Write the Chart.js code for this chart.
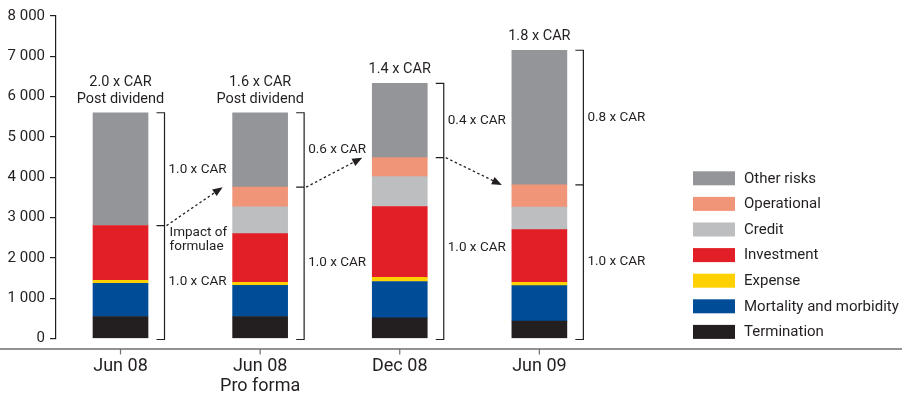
<!DOCTYPE html>
<html>
<head>
<meta charset="utf-8">
<script src="https://cdn.jsdelivr.net/npm/chart.js@4.4.1/dist/chart.umd.min.js"></script>
<style>
  html, body { margin: 0; padding: 0; background: #ffffff; }
  #wrap { width: 902px; height: 397px; position: relative; }
</style>
</head>
<body>
<div id="wrap"><canvas id="c" width="902" height="397"></canvas></div>
<script>
// Capital requirement by risk type, per reporting date
const categories = ['Jun 08', ['Jun 08', 'Pro forma'], 'Dec 08', 'Jun 09'];
const termination = [545, 545, 510, 430];
const mortality   = [825, 775, 905, 880];
const expense     = [70, 75, 100, 85];
const investment  = [1360, 1205, 1760, 1305];
const credit      = [0, 665, 740, 560];
const operational = [0, 490, 470, 550];
const otherRisks  = [2800, 1845, 1845, 3340];

const yTickValues = [0, 1000, 2000, 3000, 4000, 5000, 6000, 7000, 8000];

// Capital cover annotations
const coverLabels = [['2.0 x CAR', 'Post dividend'], ['1.6 x CAR', 'Post dividend'], ['1.4 x CAR'], ['1.8 x CAR']];
const upperCover  = ['1.0 x CAR', '0.6 x CAR', '0.4 x CAR', '0.8 x CAR'];
const lowerCover  = ['1.0 x CAR', '1.0 x CAR', '1.0 x CAR', '1.0 x CAR'];
const formulaNote = ['Impact of', 'formulae'];

const seriesNames  = ['Termination', 'Mortality and morbidity', 'Expense', 'Investment', 'Credit', 'Operational', 'Other risks'];
const seriesValues = [termination, mortality, expense, investment, credit, operational, otherRisks];
const seriesColors = ['#231f20', '#004c97', '#ffd100', '#e21e26', '#bcbec0', '#f19579', '#939598'];

const FONT = 'Roboto, "DejaVu Sans", sans-serif';
const INK = '#231f20';

const datasets = seriesNames.map((name, k) => ({
  label: name,
  data: seriesValues[k].map((v, i) => ({ x: i, y: v })),
  backgroundColor: seriesColors[k],
  borderWidth: 0,
  barThickness: 55
}));

function fmtThousands(v) {
  return String(v).replace(/\B(?=(\d{3})+(?!\d))/g, ' ');
}

function arrow(ctx, x1, y1, x2, y2) {
  const ang = Math.atan2(y2 - y1, x2 - x1);
  const len = 10, half = 4;
  const bx = x2 - Math.cos(ang) * len, by = y2 - Math.sin(ang) * len;
  ctx.save();
  ctx.strokeStyle = INK;
  ctx.lineWidth = 1.3;
  ctx.setLineDash([2.5, 2.5]);
  ctx.beginPath();
  ctx.moveTo(x1, y1);
  ctx.lineTo(bx, by);
  ctx.stroke();
  ctx.setLineDash([]);
  ctx.fillStyle = INK;
  ctx.beginPath();
  ctx.moveTo(x2, y2);
  ctx.lineTo(bx + Math.sin(ang) * half, by - Math.cos(ang) * half);
  ctx.lineTo(bx - Math.sin(ang) * half, by + Math.cos(ang) * half);
  ctx.closePath();
  ctx.fill();
  ctx.restore();
}

const decorations = {
  id: 'decorations',
  afterDraw(chart) {
    const ctx = chart.ctx;
    const xs = chart.scales.x, ys = chart.scales.y;
    const zero = ys.getPixelForValue(0);
    const topMeta = chart.getDatasetMeta(seriesNames.length - 1);

    const geo = categories.map((c, i) => {
      const el = topMeta.data[i];
      const total = seriesValues.reduce((s, arr) => s + arr[i], 0);
      const split = total - otherRisks[i];
      return {
        cx: el.x,
        left: el.x - el.width / 2,
        right: el.x + el.width / 2,
        top: ys.getPixelForValue(total),
        split: ys.getPixelForValue(split)
      };
    });

    ctx.save();
    ctx.strokeStyle = INK;
    ctx.fillStyle = INK;
    ctx.lineWidth = 1.2;

    geo.forEach((g, i) => {
      const bx = g.right + 16.5;
      // bracket
      ctx.beginPath();
      ctx.moveTo(bx - 8, g.top); ctx.lineTo(bx, g.top);
      ctx.lineTo(bx, zero + 1); ctx.lineTo(bx - 8, zero + 1);
      ctx.moveTo(bx - 8, g.split); ctx.lineTo(bx, g.split);
      ctx.stroke();

      ctx.font = '13.5px ' + FONT;
      ctx.textAlign = 'left';
      ctx.textBaseline = 'middle';
      ctx.fillText(upperCover[i], bx + 4, (g.top + g.split) / 2);
      ctx.fillText(lowerCover[i], bx + 4, (g.split + zero) / 2);
      if (i === 0) {
        ctx.fillText(formulaNote[0], bx + 5, g.split + 7);
        ctx.fillText(formulaNote[1], bx + 5, g.split + 20.5);
      }

      // cover multiple above each bar
      ctx.font = '14.5px ' + FONT;
      ctx.textAlign = 'center';
      const lines = coverLabels[i];
      lines.forEach((t, k) => {
        const y = g.top - 13.5 - (lines.length - 1 - k) * 16.5;
        ctx.fillText(t, g.cx, y);
      });
    });

    // movement arrows between bars
    for (let i = 0; i < geo.length - 1; i++) {
      const bx = geo[i].right + 16.5;
      arrow(ctx, bx + 2, geo[i].split, geo[i + 1].left - 10, geo[i + 1].split);
    }

    // base line with category ticks
    const baseY = zero + 10.5;
    ctx.strokeStyle = '#6d6e70';
    ctx.lineWidth = 1.6;
    ctx.beginPath();
    ctx.moveTo(0, baseY); ctx.lineTo(chart.width, baseY);
    ctx.stroke();
    ctx.lineWidth = 1.2;
    categories.forEach((c, i) => {
      const px = xs.getPixelForValue(i);
      ctx.beginPath();
      ctx.moveTo(px, baseY); ctx.lineTo(px, baseY + 5.5);
      ctx.stroke();
    });

    // legend
    ctx.font = '15px ' + FONT;
    ctx.textAlign = 'left';
    ctx.textBaseline = 'middle';
    for (let r = 0; r < seriesNames.length; r++) {
      const k = seriesNames.length - 1 - r;
      const cy = 178.3 + r * 25.6;
      ctx.fillStyle = seriesColors[k];
      ctx.fillRect(693, cy - 7, 42, 14);
      ctx.fillStyle = INK;
      ctx.fillText(seriesNames[k], 744, cy + 0.5);
    }
    ctx.restore();
  }
};

new Chart(document.getElementById('c'), {
  type: 'bar',
  data: { datasets },
  plugins: [decorations],
  options: {
    responsive: false,
    devicePixelRatio: 1,
    animation: false,
    layout: { padding: { top: 16, right: 223, left: 0, bottom: 0 } },
    plugins: { legend: { display: false }, tooltip: { enabled: false } },
    scales: {
      x: {
        type: 'linear',
        stacked: true,
        offset: false,
        min: -0.462,
        max: 4.0,
        grid: { display: false, drawTicks: false, offset: false },
        border: { display: false },
        afterBuildTicks(scale) { scale.ticks = categories.map((c, i) => ({ value: i })); },
        afterFit(scale) { scale.height = 397 - 338.5; },
        ticks: {
          autoSkip: false,
          maxRotation: 0,
          padding: 18,
          color: INK,
          font: { family: FONT, size: 18, lineHeight: 1.1 },
          callback: (v, idx) => categories[idx]
        }
      },
      y: {
        stacked: true,
        min: 0,
        max: 8000,
        afterBuildTicks(scale) { scale.ticks = yTickValues.map(v => ({ value: v })); },
        afterFit(scale) { scale.width = 56; },
        grid: { drawOnChartArea: false, drawTicks: true, tickLength: 6, color: INK, lineWidth: 1.2 },
        border: { display: true, color: INK, width: 1.2 },
        ticks: {
          padding: 5,
          color: INK,
          font: { family: FONT, size: 15 },
          callback: v => fmtThousands(v)
        }
      }
    }
  }
});
</script>
</body>
</html>
